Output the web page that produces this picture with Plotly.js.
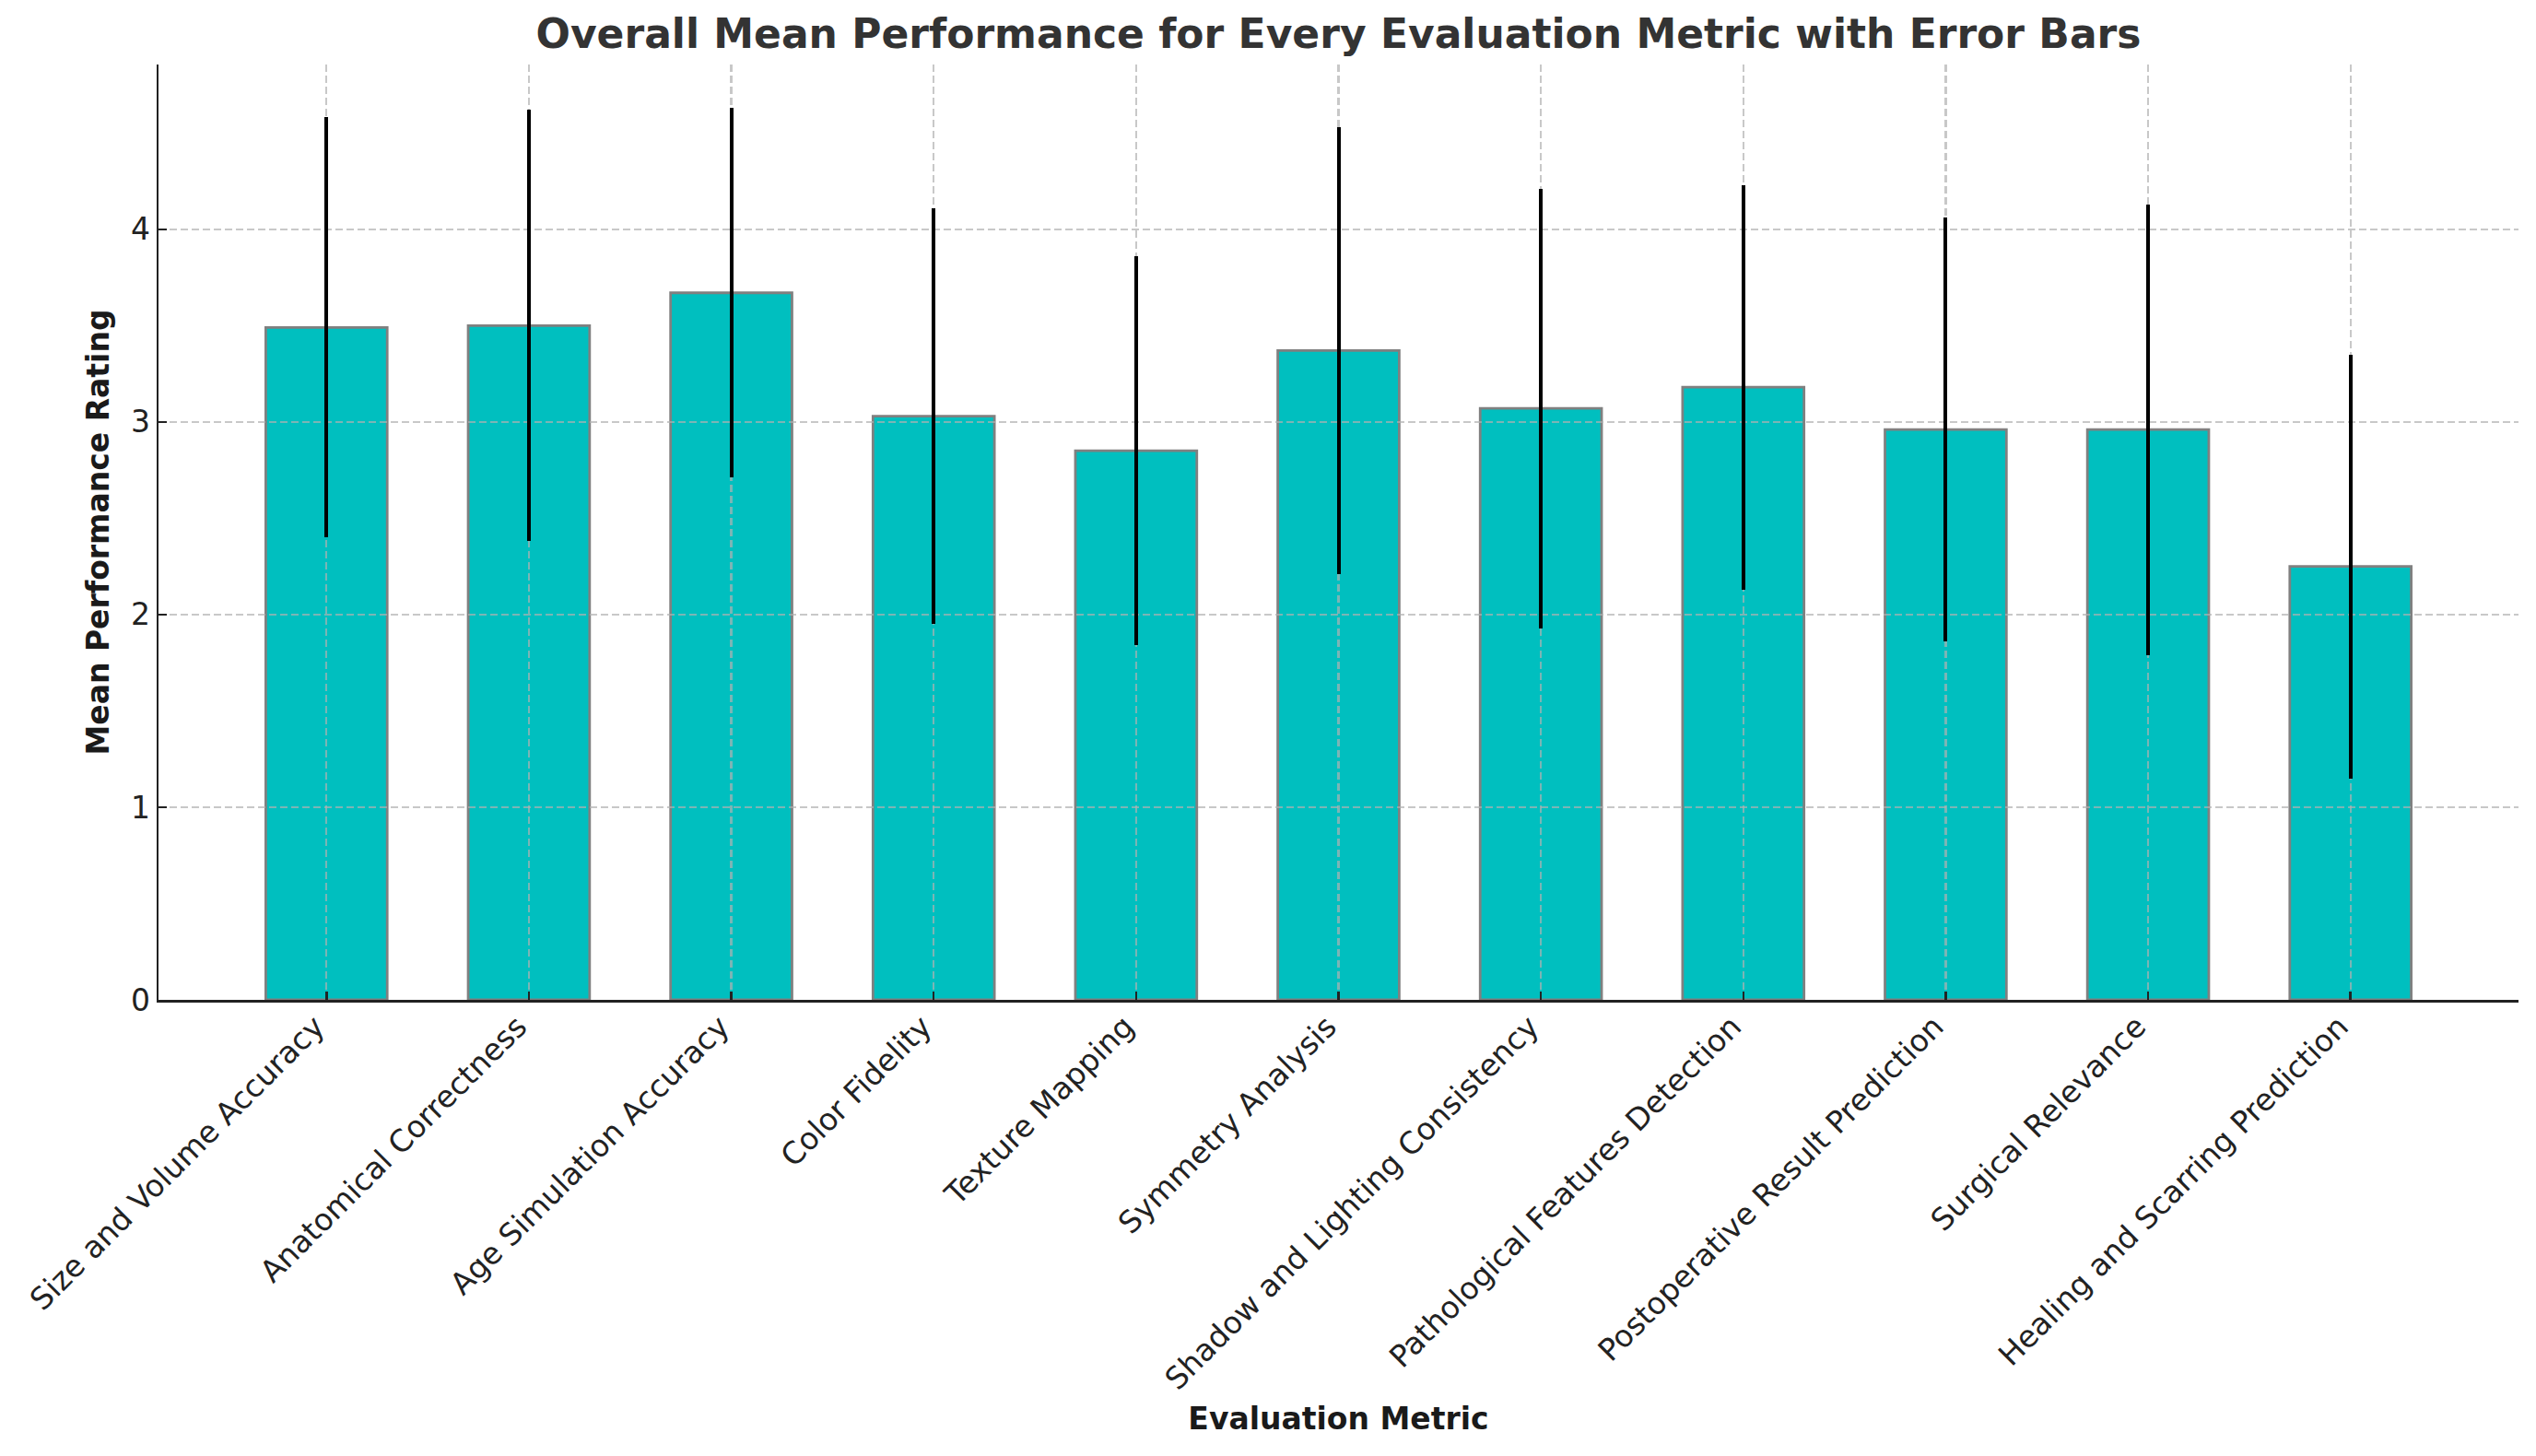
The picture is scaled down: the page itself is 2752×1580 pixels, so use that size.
<!DOCTYPE html>
<html>
<head>
<meta charset="utf-8">
<script src="https://cdn.plot.ly/plotly-3.0.1.min.js"></script>
<style>
  html, body { margin: 0; padding: 0; background: #ffffff; }
  #chart { width: 2752px; height: 1580px; }
</style>
</head>
<body>
<div id="chart"></div>
<script>
// ---- data ----
const categories = [
  "Size and Volume Accuracy",
  "Anatomical Correctness",
  "Age Simulation Accuracy",
  "Color Fidelity",
  "Texture Mapping",
  "Symmetry Analysis",
  "Shadow and Lighting Consistency",
  "Pathological Features Detection",
  "Postoperative Result Prediction",
  "Surgical Relevance",
  "Healing and Scarring Prediction"
];
const meanRatings = [3.49, 3.50, 3.67, 3.03, 2.85, 3.37, 3.07, 3.18, 2.96, 2.96, 2.25];
const stdDevs     = [1.09, 1.12, 0.96, 1.08, 1.01, 1.16, 1.14, 1.05, 1.10, 1.17, 1.10];
const yTickVals   = [0, 1, 2, 3, 4];
const yTickText   = ["0", "1", "2", "3", "4"];

const chartTitle = "Overall Mean Performance for Every Evaluation Metric with Error Bars";
const xTitle = "Evaluation Metric";
const yTitle = "Mean Performance Rating";

// ---- styling ----
const FONT = "DejaVu Sans, Verdana, sans-serif";
const xRange = [-0.83, categories.length - 1 + 0.83];
const yRange = [0, 4.855];
const gridColor = "rgba(176,176,176,0.7)";

// bars (bottom subplot)
const barTrace = {
  type: "bar",
  x: categories,
  y: meanRatings,
  width: 0.6,
  xaxis: "x",
  yaxis: "y",
  marker: { color: "#00BFBF", line: { color: "#808080", width: 2.8 } },
  hoverinfo: "skip",
  showlegend: false
};

// error bars (top subplot, above the grid)
const errTrace = {
  type: "bar",
  x: categories,
  y: meanRatings,
  width: 0.6,
  xaxis: "x2",
  yaxis: "y2",
  marker: { color: "rgba(0,0,0,0)", line: { width: 0 } },
  error_y: { type: "data", array: stdDevs, symmetric: true, visible: true,
             color: "#000000", thickness: 4, width: 0 },
  hoverinfo: "skip",
  showlegend: false
};

const hiddenAxis = {
  showgrid: false, zeroline: false, showline: false,
  showticklabels: false, ticks: ""
};

const layout = {
  width: 2752,
  height: 1580,
  margin: { l: 172, r: 19, t: 70, b: 495, pad: 0 },
  paper_bgcolor: "#ffffff",
  plot_bgcolor: "rgba(0,0,0,0)",
  font: { family: FONT, size: 33, color: "#222222" },
  bargap: 0,
  title: {
    text: chartTitle,
    font: { family: FONT, size: 44, color: "#333333", weight: "bold" },
    x: 0.5 + (172 - 19) / 2 / 2752,
    xanchor: "center",
    xref: "container",
    y: 1 - 37 / 1580,
    yanchor: "middle",
    yref: "container"
  },
  xaxis: Object.assign({ type: "category", range: xRange, anchor: "y",
    categoryorder: "array", categoryarray: categories }, hiddenAxis),
  yaxis: Object.assign({ range: yRange, anchor: "x" }, hiddenAxis),
  xaxis2: {
    type: "category",
    categoryorder: "array",
    categoryarray: categories,
    range: xRange,
    anchor: "y2",
    tickangle: -45,
    tickfont: { family: FONT, size: 33, color: "#222222" },
    ticklabelshift: -12,
    ticklabelstandoff: -6,
    ticks: "inside",
    ticklen: 9,
    tickwidth: 2.5,
    tickcolor: "#222222",
    showline: true,
    linecolor: "#222222",
    linewidth: 2.5,
    showgrid: true,
    gridcolor: gridColor,
    gridwidth: 2.2,
    griddash: "8px,4px",
    zeroline: false,
    automargin: false,
    title: {
      text: xTitle,
      font: { family: FONT, size: 33, color: "#1a1a1a", weight: "bold" },
      standoff: 14
    }
  },
  yaxis2: {
    range: yRange,
    anchor: "x2",
    tickmode: "array",
    tickvals: yTickVals,
    ticktext: yTickText,
    tickfont: { family: FONT, size: 33, color: "#222222" },
    ticks: "inside",
    ticklen: 9,
    tickwidth: 2.5,
    tickcolor: "#222222",
    showline: true,
    linecolor: "#222222",
    linewidth: 2.5,
    showgrid: true,
    gridcolor: gridColor,
    gridwidth: 2.2,
    griddash: "8px,4px",
    zeroline: false,
    automargin: false,
    title: {
      text: yTitle,
      font: { family: FONT, size: 33, color: "#1a1a1a", weight: "bold" },
      standoff: 14
    }
  }
};

Plotly.newPlot("chart", [barTrace, errTrace], layout, { displayModeBar: false, staticPlot: true });
</script>
</body>
</html>
